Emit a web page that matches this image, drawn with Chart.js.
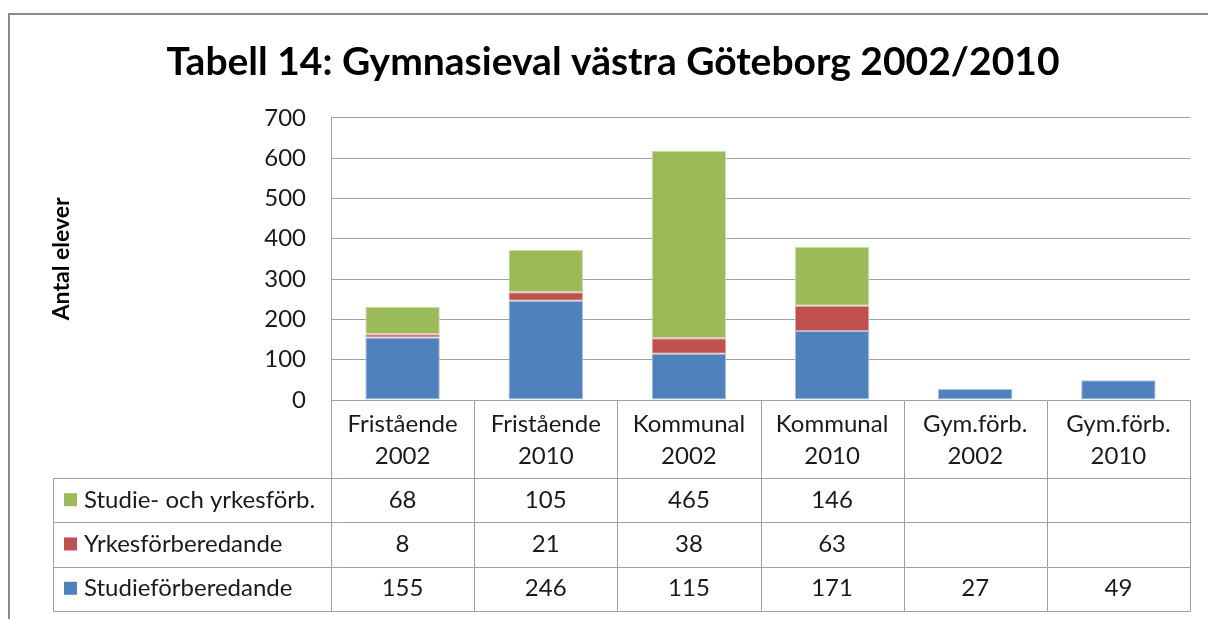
<!DOCTYPE html>
<html>
<head>
<meta charset="utf-8">
<script src="https://cdn.jsdelivr.net/npm/chart.js@4"></script>
<style>
html,body{margin:0;padding:0;background:#fff;}
#wrap{width:1208px;height:619px;}
</style>
</head>
<body>
<div id="wrap"><canvas id="c" width="1208" height="619"></canvas></div>
<script>
const categories = [["Fristående","2002"],["Fristående","2010"],["Kommunal","2002"],["Kommunal","2010"],["Gym.förb.","2002"],["Gym.förb.","2010"]];
const studie = [155, 246, 115, 171, 27, 49];
const yrkes = [8, 21, 38, 63, null, null];
const studieYrkes = [68, 105, 465, 146, null, null];
const seriesNames = ["Studieförberedande", "Yrkesförberedande", "Studie- och yrkesförb."];
const yTicks = [0, 100, 200, 300, 400, 500, 600, 700];

const colors = ["#4F81BD", "#C0504D", "#9BBB59"];
const borders = ["#A7C0DE", "#DFA7A6", "#CDDDAC"];
const FONT = "Lato, 'Open Sans', sans-serif";
const LINE = "#A0A0A0";
const TXT = 24;

const tablePlugin = {
  id: "dataTable",
  beforeDraw(chart) {
    const ctx = chart.ctx;
    ctx.save();
    ctx.strokeStyle = "#8a8a8a";
    ctx.lineWidth = 2;
    ctx.beginPath();
    ctx.moveTo(9, 620); ctx.lineTo(9, 14); ctx.lineTo(1210, 14);
    ctx.stroke();
    ctx.restore();
  },
  afterDraw(chart) {
    const ctx = chart.ctx;
    const xs = chart.scales.x;
    const area = chart.chartArea;
    const n = categories.length;
    const w = (xs.getPixelForValue(1) - xs.getPixelForValue(0));
    const left = area.left, right = area.right;
    const top = area.bottom;
    const catBottom = top + 78;
    const rowH = 44.3;
    const labelLeft = 53;
    const rows = [
      {name: seriesNames[2], data: studieYrkes, color: colors[2]},
      {name: seriesNames[1], data: yrkes, color: colors[1]},
      {name: seriesNames[0], data: studie, color: colors[0]}
    ];
    const bottom = catBottom + rowH * rows.length;
    ctx.save();
    ctx.strokeStyle = LINE;
    ctx.lineWidth = 1;
    const line = (x1, y1, x2, y2) => {
      ctx.beginPath();
      ctx.moveTo(Math.round(x1) + 0.5, Math.round(y1) + 0.5);
      ctx.lineTo(Math.round(x2) + 0.5, Math.round(y2) + 0.5);
      ctx.stroke();
    };
    line(left, top, right, top);
    for (let i = 0; i <= n; i++) {
      const x = xs.getPixelForValue(0) - w / 2 + i * w;
      line(x, top, x, bottom);
    }
    for (let r = 0; r <= rows.length; r++) {
      const y = catBottom + r * rowH;
      line(labelLeft, y, right, y);
    }
    line(labelLeft, catBottom, labelLeft, bottom);

    ctx.fillStyle = "#1a1a1a";
    ctx.font = TXT + "px " + FONT;
    ctx.textAlign = "center";
    ctx.textBaseline = "middle";
    for (let i = 0; i < n; i++) {
      const cx = xs.getPixelForValue(i);
      ctx.fillText(categories[i][0], cx, top + 24);
      ctx.fillText(categories[i][1], cx, top + 56);
    }
    rows.forEach((row, r) => {
      const cy = catBottom + r * rowH + rowH / 2;
      ctx.fillStyle = row.color;
      ctx.fillRect(64, cy - 7, 13, 13);
      ctx.fillStyle = "#1a1a1a";
      ctx.textAlign = "left";
      ctx.fillText(row.name, 84, cy);
      ctx.textAlign = "center";
      for (let i = 0; i < n; i++) {
        const v = row.data[i];
        if (v !== null && v !== undefined) {
          ctx.fillText(String(v), xs.getPixelForValue(i), cy);
        }
      }
    });
    ctx.restore();
  }
};

const mk = (label, data, i) => ({
  label, data,
  backgroundColor: colors[i],
  borderColor: borders[i],
  borderWidth: 1,
  borderSkipped: false,
  barPercentage: 0.52,
  categoryPercentage: 1.0,
  stack: "s"
});

new Chart(document.getElementById("c"), {
  type: "bar",
  data: {
    labels: categories.map(c => c.join(" ")),
    datasets: [
      mk(seriesNames[0], studie, 0),
      mk(seriesNames[1], yrkes, 1),
      mk(seriesNames[2], studieYrkes, 2)
    ]
  },
  options: {
    responsive: false,
    animation: false,
    layout: { padding: { left: 18, right: 0, top: 0, bottom: 219 } },
    plugins: {
      legend: { display: false },
      tooltip: { enabled: false },
      title: {
        display: true,
        text: "Tabell 14: Gymnasieval västra Göteborg 2002/2010",
        color: "#000",
        font: { family: FONT, size: 39, weight: "bold" },
        padding: { top: 39, bottom: 32 }
      }
    },
    scales: {
      x: {
        stacked: true,
        display: false
      },
      y: {
        stacked: true,
        min: 0, max: 700,
        afterBuildTicks(s) { s.ticks = yTicks.map(v => ({ value: v })); },
        afterFit(s) { s.width = 313; },
        grid: { color: LINE, lineWidth: 1, drawTicks: false },
        border: { display: true, color: LINE, width: 1 },
        ticks: { color: "#1a1a1a", font: { family: FONT, size: TXT }, padding: 25 },
        title: {
          display: true,
          text: "Antal elever",
          color: "#000",
          font: { family: FONT, size: 23, weight: "bold" },
          padding: { top: 30, bottom: 0 }
        }
      },
      yR: {
        position: "right",
        display: true,
        afterFit(s) { s.width = 18; },
        grid: { display: false, drawTicks: false },
        border: { display: false },
        ticks: { display: false }
      }
    }
  },
  plugins: [tablePlugin]
});
</script>
</body>
</html>
